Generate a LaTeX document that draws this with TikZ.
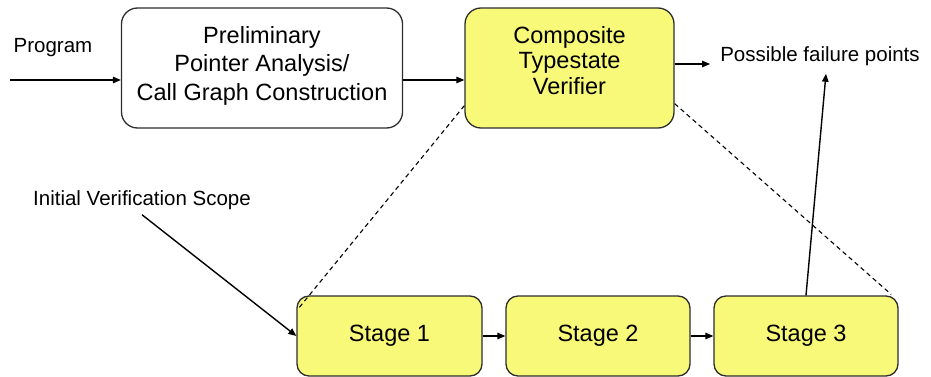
\documentclass[tikz,border=0pt]{standalone}
\usepackage{fontspec}
\setmainfont{Liberation Sans}
\usetikzlibrary{arrows.meta}
\definecolor{boxyellow}{RGB}{249,249,121}
\definecolor{boxline}{RGB}{45,45,45}
\tikzset{
  box/.style={draw=boxline, line width=1.3pt, rounded corners=16pt, inner sep=0pt},
  stagebox/.style={draw=boxline, line width=1.3pt, rounded corners=12pt, fill=boxyellow,
    minimum height=80pt, inner sep=0pt, font=\fontsize{23.5}{28}\selectfont},
  boxtext/.style={inner sep=0pt, align=center},
  lbl/.style={inner sep=0pt, font=\fontsize{20.5}{24}\selectfont},
  arr/.style={line width=1.4pt, -{Triangle[length=8pt,width=6.5pt]}},
  dashline/.style={line width=1.1pt, dash pattern=on 4.5pt off 3.5pt}
}
\begin{document}
\begin{tikzpicture}[x=1pt,y=-1pt]
\useasboundingbox (0,0) rectangle (931,377);
% top boxes
\node[box, minimum width=281pt, minimum height=120pt] (prelim) at (262,68) {};
\node[boxtext, font=\fontsize{23.5}{28.5}\selectfont] (prelimtext) at (262,65.5)
  {Preliminary\\Pointer Analysis/\\Call Graph Construction};
\node[box, fill=boxyellow, minimum width=209pt, minimum height=120pt] (comp) at (569.5,68) {};
\node[boxtext, font=\fontsize{23.5}{25.5}\selectfont] (comptext) at (569.5,60.5)
  {Composite\\Typestate\\Verifier};
% stage boxes
\node[stagebox, minimum width=185pt] (s1) at (389.5,336) {Stage 1};
\node[stagebox, minimum width=184pt] (s2) at (598,336) {Stage 2};
\node[stagebox, minimum width=184pt] (s3) at (806,336) {Stage 3};
% labels
\node[lbl] (prog) at (53,48) {Program};
\node[lbl] (init) at (142,200) {Initial Verification Scope};
\node[lbl] (fail) at (820,56) {Possible failure points};
\coordinate (pin) at (10,80);
% connectors
\draw[arr] (pin) -- (pin -| prelim.west);
\draw[arr] (pin -| prelim.east) -- (pin -| comp.west);
\draw[arr] ([yshift=4pt]comp.east) -- ([xshift=-10pt,yshift=-8pt]fail.west);
\draw[arr] ([yshift=-5pt]init.south) -- (s1.west);
\draw[arr] (s1) -- (s2);
\draw[arr] (s2) -- (s3);
\draw[arr] (s3.north) -- ([xshift=6pt,yshift=-8pt]fail.south);
% dashed scope lines
\draw[dashline] ([yshift=23pt]comp.south west) -- ([xshift=3pt,yshift=-12pt]s1.north west);
\draw[dashline] ([yshift=25pt]comp.south east) -- ([xshift=-7.5pt,yshift=1pt]s3.north east);
\end{tikzpicture}
\end{document}
